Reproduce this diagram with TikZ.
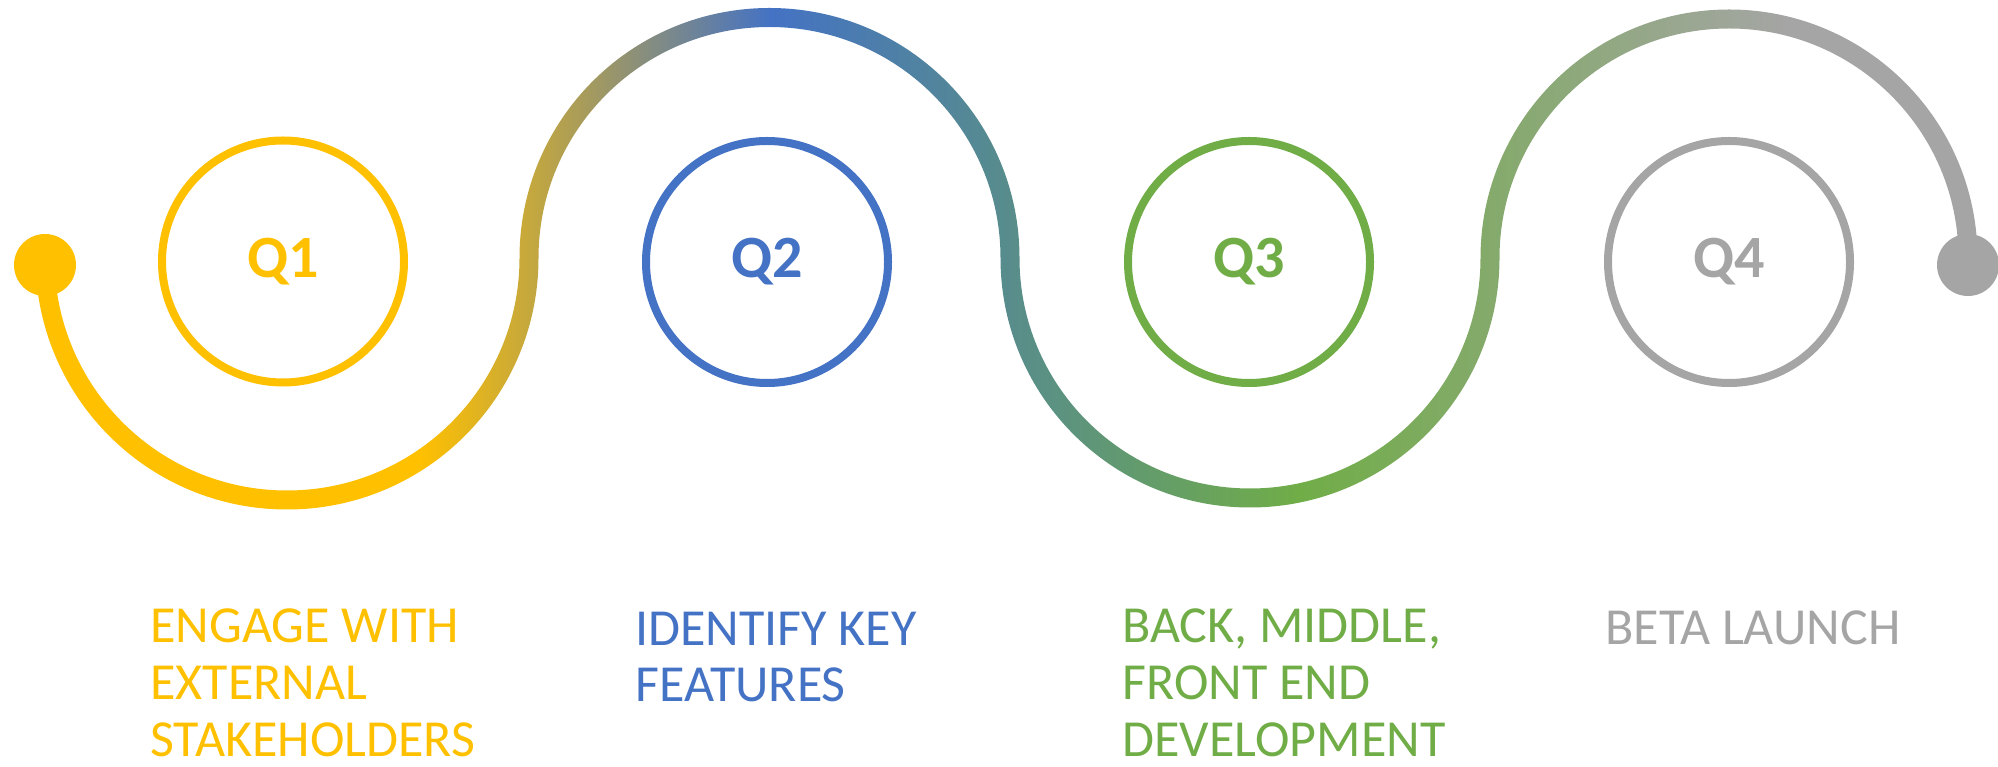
\documentclass[tikz,border=0pt]{standalone}
\usepackage{fontspec}
\setmainfont{Carlito}
\usetikzlibrary{positioning}
\definecolor{Gold}{RGB}{255,192,0}
\definecolor{Azure}{RGB}{68,114,196}
\definecolor{Leaf}{RGB}{112,173,71}
\definecolor{Ash}{RGB}{165,165,165}
\pgfdeclarehorizontalshading{snake}{100bp}{color(0bp)=(Gold); color(35.5bp)=(Gold);
  color(44.3bp)=(Azure); color(57.5bp)=(Leaf); color(69.8bp)=(Ash); color(100bp)=(Ash)}

\begin{document}
\begin{tikzpicture}[x=0.5pt,y=0.5pt,
  quarter/.style={circle,draw=#1,line width=4pt,minimum size=121pt,inner sep=0pt,
                  text=#1,font=\bfseries\fontsize{30}{30}\selectfont},
  knob/.style={circle,fill=#1,minimum size=31pt,inner sep=0pt},
  task/.style={anchor=base west,align=left,inner sep=0pt,text=#1,
               font=\fontsize{26}{28.5}\selectfont}]
  \useasboundingbox (0,0) rectangle (1998,766);
  \begin{scope}
    \clip (54.5,508) arc[start angle=180,end angle=360,radius=232.5]
      arc[start angle=180,end angle=0,radius=250]
      arc[start angle=180,end angle=360,radius=230.5]
      arc[start angle=180,end angle=0,radius=248.5]
      -- (1958.5,508)
      arc[start angle=0,end angle=180,radius=229.5]
      arc[start angle=360,end angle=180,radius=249.5]
      arc[start angle=0,end angle=180,radius=231]
      arc[start angle=360,end angle=180,radius=251.5] -- cycle;
    \shade[shading=snake] (0,0) rectangle (1998,766);
  \end{scope}
  \node[knob=Gold] (start) at (45,501) {};
  \node[knob=Ash] (finish) at (1968,501) {};
  \node[quarter=Gold] (q1) at (283,504.5) {Q1};
  \node[quarter=Azure] (q2) at (767,504) {Q2};
  \node[quarter=Leaf] (q3) at (1249,504) {Q3};
  \node[quarter=Ash] (q4) at (1729,504) {Q4};
  \node[task=Gold] (engage) at (150,10) {ENGAGE WITH\\EXTERNAL\\STAKEHOLDERS};
  \node[task=Azure] (identify) at (635,64) {IDENTIFY KEY\\FEATURES};
  \node[task=Leaf] (develop) at (1122,10) {BACK, MIDDLE,\\FRONT END\\DEVELOPMENT};
  \node[task=Ash] (launch) at (1605,121) {BETA LAUNCH};
\end{tikzpicture}
\end{document}
